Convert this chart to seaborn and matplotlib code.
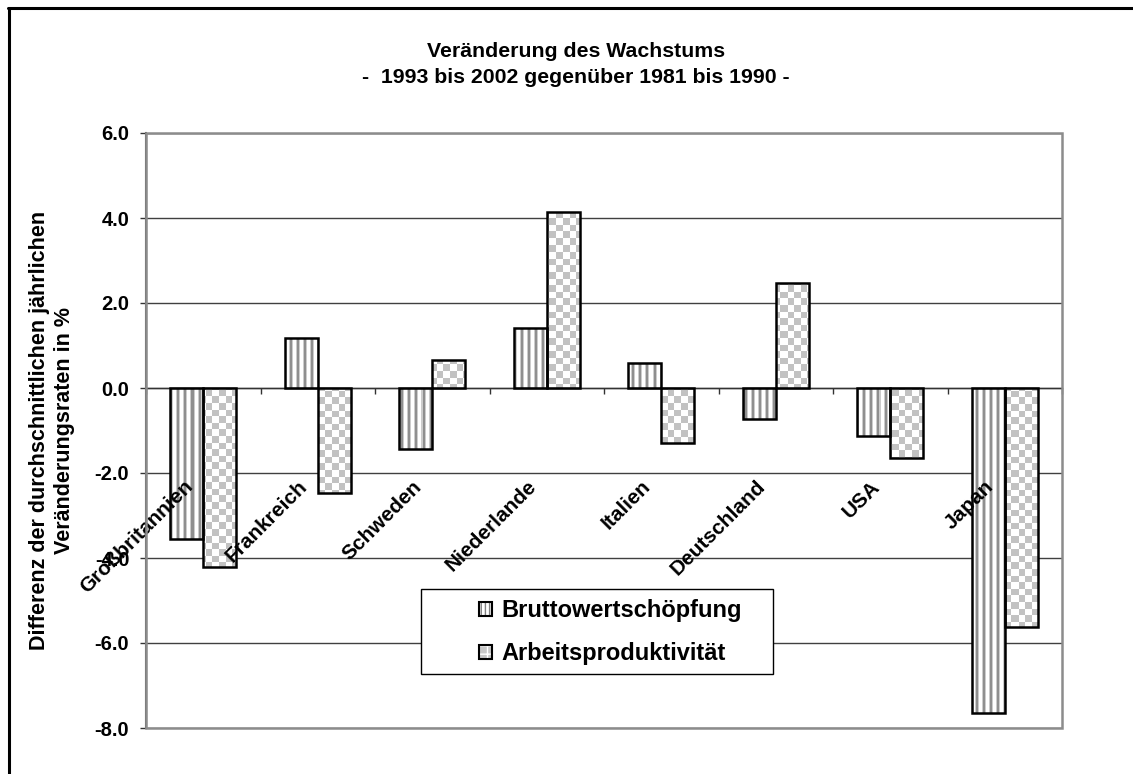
import numpy as np
import pandas as pd
import matplotlib
matplotlib.use("Agg")
import matplotlib.pyplot as plt
from matplotlib.patches import Patch, Rectangle
from matplotlib.lines import Line2D
from matplotlib.legend_handler import HandlerTuple
import seaborn as sns

# Daten
laender = ['Großbritannien', 'Frankreich', 'Schweden', 'Niederlande',
           'Italien', 'Deutschland', 'USA', 'Japan']
bruttowertschoepfung = [-3.55, 1.17, -1.44, 1.41, 0.58, -0.74, -1.13, -7.65]
arbeitsproduktivitaet = [-4.22, -2.47, 0.65, 4.15, -1.30, 2.47, -1.65, -5.62]
reihen = ['Bruttowertschöpfung', 'Arbeitsproduktivität']
y_ticks = [-8, -6, -4, -2, 0, 2, 4, 6]

df = pd.DataFrame({
    'Land': laender * 2,
    'Reihe': [reihen[0]] * len(laender) + [reihen[1]] * len(laender),
    'Wert': bruttowertschoepfung + arbeitsproduktivitaet,
})

sns.set_theme(style="white")
plt.rcParams['font.family'] = ['Liberation Sans', 'DejaVu Sans']
plt.rcParams['font.weight'] = 'bold'
plt.rcParams['text.color'] = 'black'
plt.rcParams['xtick.color'] = 'black'
plt.rcParams['ytick.color'] = 'black'
plt.rcParams['axes.labelcolor'] = 'black'

W_PX, H_PX = 1133, 774
fig = plt.figure(figsize=(W_PX / 100, H_PX / 100), dpi=100)
ax_left, ax_right, ax_top, ax_bot = 146, 1062, 133, 728
ax = fig.add_axes([ax_left / W_PX, 1 - ax_bot / H_PX,
                   (ax_right - ax_left) / W_PX, (ax_bot - ax_top) / H_PX])

sns.barplot(data=df, x='Land', y='Wert', hue='Reihe', order=laender,
            hue_order=reihen, palette=['white', 'white'], saturation=1,
            edgecolor='black', linewidth=1.8, width=0.58, legend=False,
            errorbar=None, ax=ax, zorder=3)

# Texturen (Streifen / Schachbrett) pro Balken per Clip-Pfad
aw, ah = ax_right - ax_left, ax_bot - ax_top
xx = np.arange(aw)
yy = np.arange(ah)
stripe_vals = np.array([1.0, 1.0, 0.8, 0.56, 0.56, 0.8, 1.0])
stripes = np.tile(stripe_vals[xx % len(stripe_vals)], (ah, 1))
checker = np.where(((xx[None, :] // 6.6).astype(int) +
                    (yy[:, None] // 6.6).astype(int)) % 2 == 0, 0.76, 1.0)
extent = (-0.5, 7.5, -8, 6)
for cont, tex in zip(ax.containers, [stripes, checker]):
    for bar in cont:
        bar.set_facecolor('none')
        im = ax.imshow(tex, extent=extent, cmap='gray', vmin=0, vmax=1,
                       aspect='auto', interpolation='nearest', zorder=2)
        im.set_clip_path(bar)

ax.set_xlim(-0.5, 7.5)
ax.set_ylim(-8, 6)
ax.set_yticks(y_ticks)
ax.set_yticklabels([f'{v:.1f}' for v in y_ticks], fontsize=14.5, fontweight='bold')
ax.set_xticks(np.arange(-0.5, 8, 1))
ax.set_xticklabels([''] * 9)
ax.set_xlabel('')
ax.set_ylabel('')
ax.grid(axis='y', color='#404040', linewidth=1)
ax.set_axisbelow(True)

ax.spines['bottom'].set_position(('data', 0))
ax.spines['bottom'].set_color('#333333')
ax.spines['bottom'].set_linewidth(1)
ax.spines['left'].set_color('#555555')
ax.spines['left'].set_linewidth(1.5)
ax.spines['top'].set_visible(False)
ax.spines['right'].set_visible(False)
ax.tick_params(axis='x', direction='out', length=4.5, width=1, color='#333333', bottom=True)
ax.tick_params(axis='y', direction='out', length=4, width=1, color='#333333', pad=8, left=True)
ax.add_patch(Rectangle((0, 0), 1, 1, transform=ax.transAxes, fill=False,
                       edgecolor='#8c8c8c', linewidth=1.8, zorder=4, clip_on=False))

# Kategorienbeschriftung (schräg)
for i, land in enumerate(laender):
    ax.annotate(land, xy=(i, 0), xytext=(-5, -64), textcoords='offset points',
                rotation=45, ha='right', va='top', fontsize=15, fontweight='bold')

# Titel und Achsenbeschriftung
fig.text(576 / W_PX, 1 - 42 / H_PX,
         'Veränderung des Wachstums\n-  1993 bis 2002 gegenüber 1981 bis 1990 -',
         ha='center', va='top', fontsize=15.3, fontweight='bold', linespacing=1.45)
fig.text(52 / W_PX, 1 - 430 / H_PX,
         'Differenz der durchschnittlichen jährlichen\nVeränderungsraten in %',
         rotation=90, ha='center', va='center', multialignment='center',
         fontsize=15.5, fontweight='bold', linespacing=1.25)

# Legende
ax.add_patch(Rectangle((0.300, 0.0908), 0.3843, 0.1428, transform=ax.transAxes,
                       facecolor='white', edgecolor='black', linewidth=1, zorder=5))
h1 = (Patch(facecolor='white', edgecolor='#808080', hatch='||||', linewidth=0),
      Patch(fill=False, edgecolor='black', linewidth=1.5))
h2 = (Patch(facecolor='#c8c8c8', edgecolor='white', hatch='++', linewidth=0),
      Patch(fill=False, edgecolor='black', linewidth=1.5))
leg = ax.legend([h1, h2], reihen, loc='upper left', bbox_to_anchor=(0.3635, 0.2168),
                frameon=False, borderpad=0, borderaxespad=0, handlelength=0.55,
                handleheight=0.55, handletextpad=0.42, labelspacing=0.85,
                prop={'weight': 'bold', 'size': 17},
                handler_map={tuple: HandlerTuple(ndivide=1, pad=0)})
leg.set_zorder(6)

# Rahmen um die Grafik
fig.add_artist(Line2D([9 / W_PX, 9 / W_PX], [0, 1 - 8 / H_PX], transform=fig.transFigure,
                      color='black', linewidth=2.2))
fig.add_artist(Line2D([8 / W_PX, 1], [1 - 8 / H_PX, 1 - 8 / H_PX], transform=fig.transFigure,
                      color='black', linewidth=2.2))

fig.savefig('out.png', dpi=100)
